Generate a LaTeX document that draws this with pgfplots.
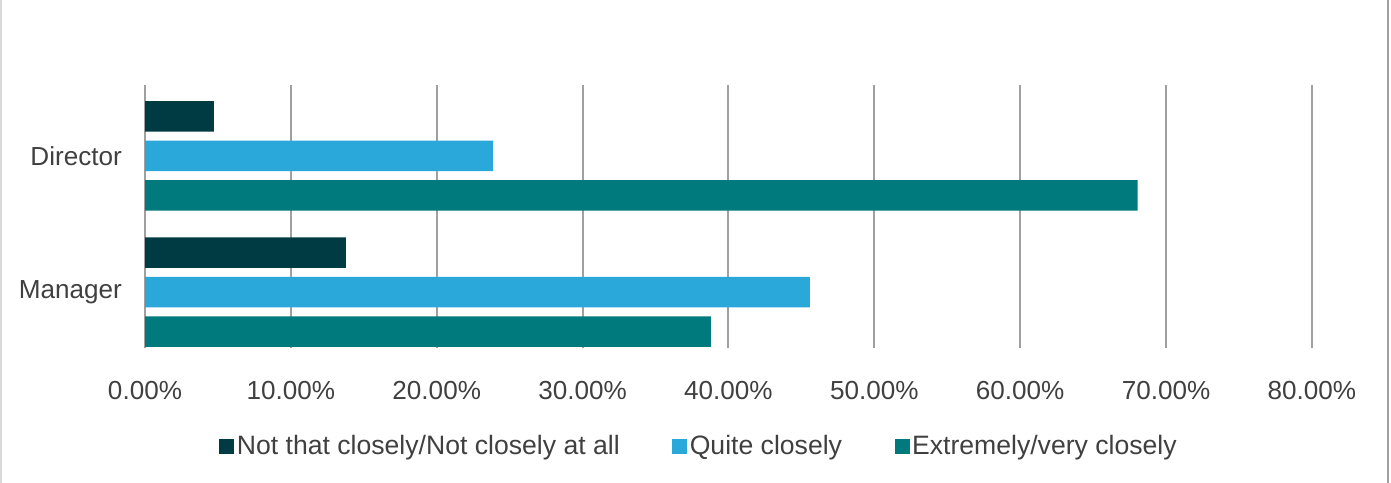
\documentclass[border=0pt]{standalone}
\usepackage{pgfplots}
\pgfplotsset{compat=1.18}
\usepackage{fontspec}
\setmainfont{Liberation Sans}
\definecolor{cdark}{RGB}{0,59,68}
\definecolor{clight}{RGB}{41,168,217}
\definecolor{cteal}{RGB}{0,122,124}
\definecolor{ctext}{RGB}{64,64,64}
\definecolor{cgrid}{RGB}{160,160,160}
\definecolor{cframe}{RGB}{217,217,217}
\begin{document}
\begin{tikzpicture}
\path[use as bounding box] (0bp,0bp) rectangle (1391bp,-483bp);
\draw[cframe, line width=1.5bp] (0.75bp,0bp) -- (0.75bp,-483bp);
\draw[cgrid, line width=2bp] (1388bp,0bp) -- (1388bp,-483bp);
\begin{axis}[
  at={(145bp,-348bp)}, anchor=south west,
  scale only axis, width=1167bp, height=263bp,
  xbar, bar width=0.225,
  xmin=0, xmax=80, ymin=-0.52, ymax=1.41, y dir=reverse,
  ytick={0,1}, yticklabels={Director,Manager},
  xtick={0,10,20,30,40,50,60,70,80},
  xticklabels={0.00\%,10.00\%,20.00\%,30.00\%,40.00\%,50.00\%,60.00\%,70.00\%,80.00\%},
  axis line style={draw=none},
  major tick length=0pt,
  xmajorgrids, grid style={cgrid, line width=2bp},
  ticklabel style={font=\fontsize{26.2}{31}\selectfont, text=ctext, inner sep=0pt},
  xticklabel style={anchor=north, yshift=-33bp},
  yticklabel style={anchor=east, xshift=-23bp},
  legend columns=3,
  legend style={draw=none, fill=none, at={(rel axis cs:0.475,-0.373)}, anchor=center,
    font=\fontsize{26.7}{31}\selectfont, text=ctext,
    nodes={inner xsep=2.5bp, inner ysep=0pt},
    /tikz/every even column/.append style={column sep=50bp}},
  legend image code/.code={\fill[#1] (0bp,-7.5bp) rectangle (15bp,7.5bp);},
  clip=false,
]
\addplot[fill=cdark, draw=none, bar shift=-0.29] coordinates {(4.73,0) (13.78,1)};
\addplot[fill=clight, draw=none, bar shift=0] coordinates {(23.85,0) (45.58,1)};
\addplot[fill=cteal, draw=none, bar shift=0.29] coordinates {(68.06,0) (38.79,1)};
\legend{Not that closely/Not closely at all, Quite closely, Extremely/very closely}
\end{axis}
\end{tikzpicture}
\end{document}
